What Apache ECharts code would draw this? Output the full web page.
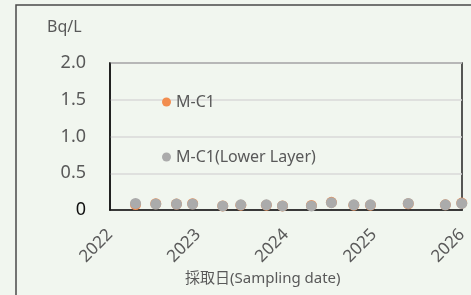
<!DOCTYPE html>
<html>
<head>
<meta charset="utf-8">
<script src="https://cdn.jsdelivr.net/npm/echarts@6/dist/echarts.min.js"></script>
<style>
    html, body { margin: 0; padding: 0; background: #F1F6EF; }
    #chart { width: 471px; height: 295px; }
</style>
</head>
<body>
<div id="chart"></div>
<script>
// 採取日
const sampleDates = ['2022-04-17', '2022-07-10', '2022-10-04', '2022-12-10', '2023-04-14',
    '2023-06-28', '2023-10-12', '2023-12-18', '2024-04-16', '2024-07-08',
    '2024-10-09', '2024-12-17', '2025-05-23', '2025-10-24', '2025-12-31'];
// M-C1 (Bq/L)
const mc1Values = [0.075, 0.085, 0.08, 0.085, 0.055, 0.065, 0.065, 0.055, 0.062, 0.105, 0.065, 0.065, 0.085, 0.07, 0.095];
// M-C1(Lower Layer) (Bq/L)
const lowerValues = [0.09, 0.08, 0.08, 0.08, 0.055, 0.07, 0.07, 0.055, 0.055, 0.1, 0.07, 0.07, 0.09, 0.07, 0.09];
const yTicks = [0, 0.5, 1.0, 1.5, 2.0];

const fontFamily = '"Noto Sans", "Noto Sans CJK JP", sans-serif';
const textColor = '#595959';
const orange = '#F28D4F';
const gray = '#ABABAB';

const myChart = echarts.init(document.getElementById('chart'));

const toPoints = (vals) => sampleDates.map((d, i) => [d, vals[i]]);

const option = {
    backgroundColor: '#F1F6EF',
    animation: false,
    textStyle: { fontFamily: fontFamily },
    title: [
        {
            text: 'Bq/L',
            left: 42,
            top: 14,
            textStyle: { fontSize: 16, fontWeight: 'normal', color: textColor, fontFamily: fontFamily }
        },
        {
            text: '採取日(Sampling date)',
            left: 180,
            top: 266,
            textStyle: { fontSize: 15, fontWeight: 'normal', color: textColor, fontFamily: fontFamily }
        }
    ],
    graphic: [
        {
            type: 'rect',
            shape: { x: 16, y: 5, width: 700, height: 500 },
            style: { fill: 'none', stroke: '#4a4a4a', lineWidth: 1.5 },
            silent: true
        }
    ],
    legend: {
        orient: 'vertical',
        left: 157,
        top: 89,
        itemGap: 39,
        itemWidth: 9,
        itemHeight: 9,
        icon: 'circle',
        textStyle: { fontSize: 16, color: textColor, lineHeight: 16, fontFamily: fontFamily },
        data: ['M-C1', 'M-C1(Lower Layer)']
    },
    grid: {
        left: 110,
        right: 9,
        top: 63,
        bottom: 85,
        show: true,
        borderColor: '#222',
        borderWidth: 1.5,
        backgroundColor: 'transparent'
    },
    xAxis: {
        type: 'time',
        min: '2022-01-01',
        max: '2026-01-01',
        minInterval: 365 * 24 * 3600 * 1000,
        maxInterval: 366 * 24 * 3600 * 1000,
        axisLine: { lineStyle: { color: '#111', width: 1.5 } },
        axisTick: { show: false },
        splitLine: { show: false },
        axisLabel: {
            rotate: 45,
            margin: 22,
            fontSize: 17,
            color: textColor,
            formatter: '{yyyy}',
            showMinLabel: true,
            showMaxLabel: true
        }
    },
    yAxis: {
        type: 'value',
        min: yTicks[0],
        max: yTicks[yTicks.length - 1],
        interval: 0.5,
        axisLine: { show: true, lineStyle: { color: '#111', width: 1.5 } },
        axisTick: { show: false },
        splitLine: { lineStyle: { color: '#D9D9D9', width: 1.5 } },
        axisLabel: {
            margin: 24,
            fontSize: 18,
            color: (val) => (Number(val) === 0 ? '#111' : textColor),
            formatter: (val) => (val === 0 ? '0' : val.toFixed(1))
        }
    },
    series: [
        {
            name: 'M-C1',
            type: 'scatter',
            symbolSize: 11,
            itemStyle: { color: orange, opacity: 1 },
            data: toPoints(mc1Values)
        },
        {
            name: 'M-C1(Lower Layer)',
            type: 'scatter',
            symbolSize: 11,
            itemStyle: { color: gray, opacity: 1 },
            data: toPoints(lowerValues)
        }
    ]
};

option && myChart.setOption(option);
</script>
</body>
</html>
